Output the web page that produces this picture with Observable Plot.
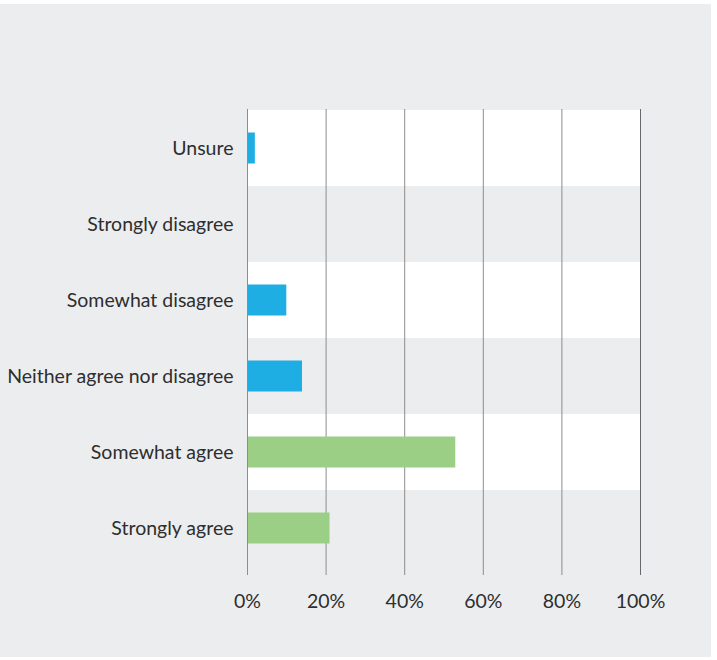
<!DOCTYPE html>
<html>
<head>
<meta charset="utf-8">
<script src="https://cdn.jsdelivr.net/npm/d3@7"></script>
<script src="https://cdn.jsdelivr.net/npm/@observablehq/plot@0.6"></script>
<style>
  html, body { margin: 0; padding: 0; background: #ffffff; }
  #frame { position: absolute; left: 0; top: 4px; width: 711px; height: 653px; background: #ecedef; }
</style>
</head>
<body>
<div id="frame"></div>
<script>
const categories = ["Unsure", "Strongly disagree", "Somewhat disagree", "Neither agree nor disagree", "Somewhat agree", "Strongly agree"];
const values = [2, 0, 10, 14, 53, 21];
const agreeCategories = ["Somewhat agree", "Strongly agree"];
const xTicks = [0, 20, 40, 60, 80, 100];

const BLUE = "#1eaee4";
const GREEN = "#9bcf85";

const data = categories.map((c, i) => ({category: c, value: values[i]}));
const whiteBands = categories.filter((c, i) => i % 2 === 0);

const chart = Plot.plot({
  width: 711,
  height: 653,
  marginTop: 105,
  marginBottom: 91,
  marginLeft: 247,
  marginRight: 71,
  style: {background: "transparent", fontFamily: "Lato, 'Open Sans', sans-serif", fontSize: "19.5px", color: "#2e2e2e"},
  x: {domain: [0, 100], ticks: xTicks, tickFormat: d => d + "%", tickSize: 0, tickPadding: 28, label: null},
  y: {domain: categories, padding: 0, tickSize: 0, tickPadding: 14, label: null},
  marks: [
    Plot.barX(whiteBands, {x1: 0, x2: 100, y: d => d, fill: "#ffffff"}),
    Plot.ruleX(xTicks.filter(t => t < 100), {x: d => d, stroke: "#8d8d8d", strokeWidth: 1, insetBottom: -9}),
    Plot.ruleX(xTicks.filter(t => t === 100), {x: d => d, stroke: "#666a6e", strokeWidth: 1, insetBottom: -9}),
    Plot.barX(data, {
      x: "value",
      y: "category",
      fill: d => agreeCategories.includes(d.category) ? GREEN : BLUE,
      insetTop: 22.5,
      insetBottom: 22.5,
      insetLeft: 1
    })
  ]
});
document.getElementById("frame").appendChild(chart);
</script>
</body>
</html>
